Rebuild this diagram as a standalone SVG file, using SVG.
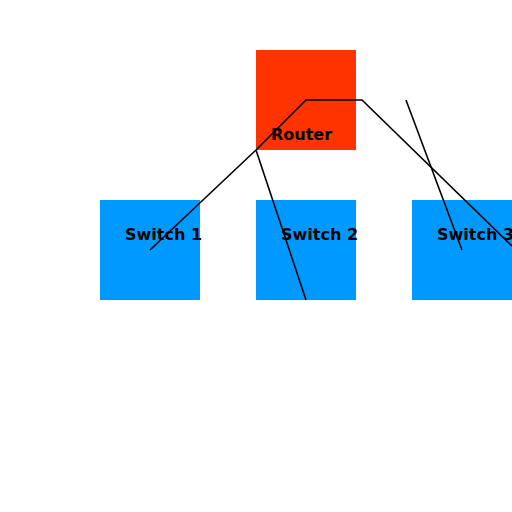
<svg xmlns="http://www.w3.org/2000/svg" width="512" height="512" viewBox="0 0 512 512">
<style>
.router{fill:#FF3300}
.switch{fill:#0099FF}
.lbl{font-family:"DejaVu Sans",sans-serif;font-weight:bold;font-size:16px;fill:#000}
.link{fill:none;stroke:#000;stroke-width:1.6}
</style>
<rect width="512" height="512" fill="#fff"/>
<g id="router">
<rect class="router" x="256" y="50" width="100" height="100"/>
<text class="lbl" x="271" y="140">Router</text>
</g>
<g id="switch1">
<rect class="switch" x="100" y="200" width="100" height="100"/>
<text class="lbl" x="125" y="240">Switch 1</text>
</g>
<g id="switch2">
<rect class="switch" x="256" y="200" width="100" height="100"/>
<text class="lbl" x="281" y="240">Switch 2</text>
</g>
<g id="switch3">
<rect class="switch" x="412" y="200" width="100" height="100"/>
<text class="lbl" x="437" y="240">Switch 3</text>
</g>
<g id="connectors">
<polyline class="link" points="150,250 256,150 306,100 362,100 512,246"/>
<line class="link" x1="256" y1="150" x2="306" y2="300"/>
<line class="link" x1="406" y1="100" x2="462" y2="250"/>
</g>
</svg>
